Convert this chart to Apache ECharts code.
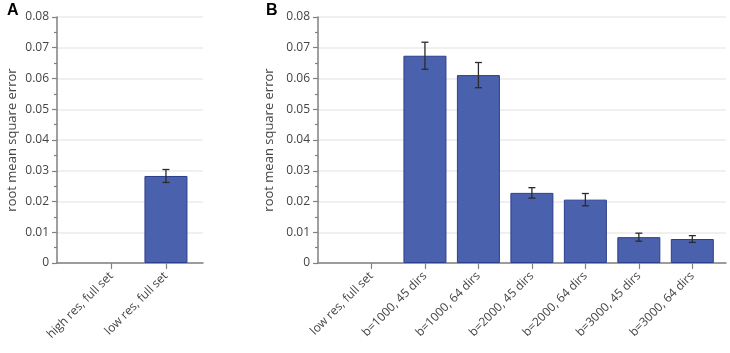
<!DOCTYPE html>
<html>
<head>
<meta charset="utf-8">
<script src="https://cdn.jsdelivr.net/npm/echarts@6/dist/echarts.min.js"></script>
<style>
  html, body { margin: 0; padding: 0; background: #fff; }
  #chart { width: 730px; height: 353px; }
</style>
</head>
<body>
<div id="chart"></div>
<script>
// panel A data
const catsA = ['high res, full set', 'low res, full set']
const rmseA = [0, 0.0283]
const errA = [0, 0.0021]

// panel B data
const catsB = ['low res, full set', 'b=1000, 45 dirs', 'b=1000, 64 dirs', 'b=2000, 45 dirs',
  'b=2000, 64 dirs', 'b=3000, 45 dirs', 'b=3000, 64 dirs']
const rmseB = [0, 0.0674, 0.0611, 0.0228, 0.0206, 0.0084, 0.0078]
const errB = [0, 0.0044, 0.0041, 0.0017, 0.0020, 0.0013, 0.0011]

const yTicks = [0, 0.01, 0.02, 0.03, 0.04, 0.05, 0.06, 0.07, 0.08]

const FONT = 'Open Sans'
const AXIS_GRAY = '#808080'
const BAR_FILL = '#4a62ad'
const BAR_EDGE = '#2c3e8c'

let positions = (cats) => cats.map((c, i) => i + 1)

// zero bars get no outline, so nothing shows on the axis
let barData = (vals) => vals.map((v, i) => ({
  value: [i + 1, v],
  itemStyle: v > 0 ? {} : { borderWidth: 0, opacity: 0 }
}))

let errData = (vals, errs) => {
  let out = []
  vals.forEach((v, i) => {
    if (errs[i] > 0) out.push([i + 1, v - errs[i], v + errs[i]])
  })
  return out
}

let renderErr = (params, api) => {
  let x = api.value(0)
  let lo = api.coord([x, api.value(1)])
  let hi = api.coord([x, api.value(2)])
  let cap = 3.5
  let style = { stroke: '#2b2b2b', lineWidth: 1.3 }
  return {
    type: 'group',
    children: [
      { type: 'line', shape: { x1: lo[0], y1: lo[1], x2: hi[0], y2: hi[1] }, style: style },
      { type: 'line', shape: { x1: lo[0] - cap, y1: lo[1], x2: lo[0] + cap, y2: lo[1] }, style: style },
      { type: 'line', shape: { x1: hi[0] - cap, y1: hi[1], x2: hi[0] + cap, y2: hi[1] }, style: style }
    ]
  }
}

let makeX = (idx, cats, max) => ({
  type: 'value',
  gridIndex: idx,
  min: 0,
  max: max,
  axisLine: { show: true, lineStyle: { color: AXIS_GRAY, width: 1.5 } },
  axisTick: { show: true, length: 6, customValues: positions(cats), lineStyle: { color: AXIS_GRAY, width: 1.2 } },
  splitLine: { show: false },
  axisLabel: {
    rotate: 45,
    margin: 11,
    fontSize: 12,
    fontFamily: FONT,
    color: '#444',
    customValues: positions(cats),
    formatter: (v) => cats[Math.round(v) - 1] || ''
  }
})

let makeY = (idx) => ({
  type: 'value',
  gridIndex: idx,
  min: yTicks[0],
  max: yTicks[yTicks.length - 1],
  interval: 0.01,
  name: 'root mean square error',
  nameLocation: 'middle',
  nameGap: 38,
  nameTextStyle: { fontSize: 13, fontFamily: FONT, color: '#444' },
  axisLine: { show: true, lineStyle: { color: AXIS_GRAY, width: 1.5 } },
  axisTick: { show: true, length: 5, lineStyle: { color: AXIS_GRAY, width: 1.2 } },
  minorTick: { show: true, splitNumber: 2, length: 3, lineStyle: { color: AXIS_GRAY, width: 1.2 } },
  splitLine: { show: true, lineStyle: { color: '#ebebeb', width: 1.5 } },
  axisLabel: { fontSize: 12, fontFamily: FONT, color: '#444', margin: 8 }
})

let barStyle = { color: BAR_FILL, borderColor: BAR_EDGE, borderWidth: 1 }

let chart = echarts.init(document.getElementById('chart'))
chart.setOption({
  animation: false,
  title: [
    { text: 'A', left: 2, top: -2, textStyle: { fontSize: 16, fontWeight: 'bold', fontFamily: 'Liberation Sans', color: '#000' } },
    { text: 'B', left: 261, top: -2, textStyle: { fontSize: 16, fontWeight: 'bold', fontFamily: 'Liberation Sans', color: '#000' } }
  ],
  grid: [
    { left: 57, top: 17, width: 146, height: 246 },
    { left: 318, top: 17, width: 408, height: 246 }
  ],
  xAxis: [makeX(0, catsA, 2.68), makeX(1, catsB, 7.63)],
  yAxis: [makeY(0), makeY(1)],
  series: [
    { type: 'bar', xAxisIndex: 0, yAxisIndex: 0, barWidth: 43, data: barData(rmseA), itemStyle: barStyle },
    { type: 'bar', xAxisIndex: 1, yAxisIndex: 1, barWidth: 43, data: barData(rmseB), itemStyle: barStyle },
    { type: 'custom', xAxisIndex: 0, yAxisIndex: 0, renderItem: renderErr, encode: { x: 0, y: [1, 2] }, data: errData(rmseA, errA), z: 5 },
    { type: 'custom', xAxisIndex: 1, yAxisIndex: 1, renderItem: renderErr, encode: { x: 0, y: [1, 2] }, data: errData(rmseB, errB), z: 5 }
  ]
})
</script>
</body>
</html>
